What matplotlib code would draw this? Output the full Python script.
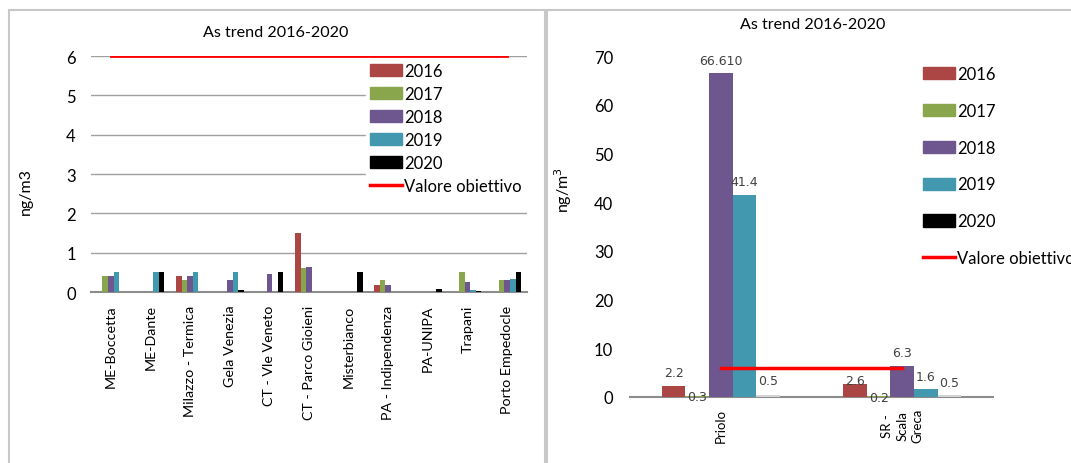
import numpy as np
import matplotlib
matplotlib.use("Agg")
import matplotlib.pyplot as plt
from matplotlib.patches import Rectangle, Patch
from matplotlib.lines import Line2D

plt.rcParams['font.family'] = ['Lato', 'DejaVu Sans']

years = ["2016", "2017", "2018", "2019", "2020"]
colors = ["#ab4644", "#8aa64c", "#6e568e", "#4298ae", "#000000"]

# pannello sinistro
stations_left = ["ME-Boccetta", "ME-Dante", "Milazzo - Termica", "Gela Venezia",
                 "CT - Vle Veneto", "CT - Parco Gioieni", "Misterbianco",
                 "PA - Indipendenza", "PA-UNIPA", "Trapani", "Porto Empedocle"]
left_2016 = [0, 0, 0.4, 0, 0, 1.5, 0, 0.18, 0, 0, 0]
left_2017 = [0.4, 0, 0.3, 0, 0, 0.6, 0, 0.3, 0, 0.5, 0.3]
left_2018 = [0.4, 0, 0.4, 0.3, 0.45, 0.63, 0, 0.18, 0, 0.26, 0.3]
left_2019 = [0.5, 0.5, 0.5, 0.5, 0, 0, 0, 0, 0, 0.05, 0.33]
left_2020 = [0, 0.5, 0, 0.05, 0.5, 0, 0.5, 0, 0.08, 0.02, 0.5]
obiettivo = 6

# pannello destro
stations_right = ["Priolo", "SR -\nScala\nGreca"]
right_2016 = [2.2, 2.6]
right_2017 = [0.3, 0.2]
right_2018 = [66.61, 6.3]
right_2019 = [41.4, 1.6]
right_2020 = [0.5, 0.5]
right_labels = [["2.2", "2.6"], ["0.3", "0.2"], ["66.610", "6.3"], ["41.4", "1.6"], ["0.5", "0.5"]]

W, H = 1071, 464
fig = plt.figure(figsize=(W / 100, H / 100), dpi=100)

# cornici dei due grafici
fig.patches.append(Rectangle((9 / W, -0.1), (545 - 9) / W, 1.1 - 10.5 / H,
                             transform=fig.transFigure, fill=False, edgecolor="#c8c8c8", lw=1.5))
fig.patches.append(Rectangle((547 / W, -0.1), 0.6, 1.1 - 10.5 / H,
                             transform=fig.transFigure, fill=False, edgecolor="#c8c8c8", lw=1.5))

grey = "#8c8c8c"

# ---- sinistra
ax1 = fig.add_axes([91 / W, (H - 293) / H, 436 / W, 236 / H])
x = np.arange(len(stations_left))
w = 0.14
series_left = [left_2016, left_2017, left_2018, left_2019, left_2020]
for i, vals in enumerate(series_left):
    ax1.bar(x + (i - 2) * w, vals, w, color=colors[i], zorder=3)
ax1.plot([x[0], x[-1]], [obiettivo, obiettivo], color="red", lw=2, zorder=6)
ax1.set_xlim(-0.5, len(stations_left) - 0.5)
ax1.set_ylim(0, 6)
ax1.set_yticks(range(0, 7))
ax1.yaxis.grid(True, color="#a0a0a0", lw=1)
ax1.set_axisbelow(True)
for s in ["left", "right", "top"]:
    ax1.spines[s].set_visible(False)
ax1.spines["bottom"].set_color(grey)
ax1.spines["bottom"].set_linewidth(1.5)
ax1.tick_params(axis="y", length=0, labelsize=12, pad=11)
ax1.tick_params(axis="x", length=0, labelsize=10.3, pad=9)
ax1.set_xticks(x)
ax1.set_xticklabels(stations_left, rotation=90)
fig.text(26 / W, 1 - 192 / H, "ng/m3", rotation=90, fontsize=11.5, ha="center", va="center")
fig.text(276 / W, 1 - 33 / H, "As trend 2016-2020", fontsize=11.6, ha="center", va="center")

handles = [Patch(color=c) for c in colors] + [Line2D([], [], color="red", lw=2.5)]
labels = years + ["Valore obiettivo"]
leg1 = ax1.legend(handles, labels, loc="upper left", bbox_to_anchor=(366 / W, 1 - 60 / H),
                  bbox_transform=fig.transFigure, frameon=True, fancybox=False,
                  edgecolor="white", facecolor="white", framealpha=1, fontsize=12,
                  handlelength=1.9, handleheight=0.75, handletextpad=0.15,
                  labelspacing=0.42, borderpad=0.25, borderaxespad=0)
leg1.set_zorder(5)

# ---- destra
ax2 = fig.add_axes([630 / W, (H - 398) / H, 363 / W, 341 / H])
x2 = np.arange(len(stations_right))
w2 = 0.13
series_right = [right_2016, right_2017, right_2018, right_2019, right_2020]
colors_right = colors[:4] + ["#d4d4d4"]
# scostamento verticale delle etichette (punti)
label_off = [[10, 3], [-1, -1], [9, 10], [10, 9], [10, 9]]
for i, vals in enumerate(series_right):
    pos = x2 + (i - 2) * w2
    ax2.bar(pos, vals, w2, color=colors_right[i], zorder=3)
    for j, (p, v, t) in enumerate(zip(pos, vals, right_labels[i])):
        ax2.annotate(t, (p, v), xytext=(0, label_off[i][j]), textcoords="offset points",
                     ha="center", va="center", fontsize=9, color="#404040",
                     family="DejaVu Sans", zorder=5)
ax2.plot([x2[0], x2[-1]], [obiettivo, obiettivo], color="red", lw=2.5, zorder=4)
ax2.set_xlim(-0.5, len(stations_right) - 0.5)
ax2.set_ylim(0, 70)
ax2.set_yticks(range(0, 71, 10))
for s in ["left", "right", "top"]:
    ax2.spines[s].set_visible(False)
ax2.spines["bottom"].set_color(grey)
ax2.spines["bottom"].set_linewidth(1.5)
ax2.tick_params(axis="y", length=0, labelsize=12, pad=12)
ax2.tick_params(axis="x", length=0, labelsize=9.5, pad=8)
ax2.set_xticks(x2)
ax2.set_xticklabels(stations_right, rotation=90, linespacing=1.3)
fig.text(563 / W, 1 - 190 / H, "ng/m$^3$", rotation=90, fontsize=11.5, ha="center", va="center")
fig.text(813 / W, 1 - 25 / H, "As trend 2016-2020", fontsize=11.6, ha="center", va="center")

leg2 = ax2.legend(handles, labels, loc="upper left", bbox_to_anchor=(923 / W, 1 - 67 / H),
                  bbox_transform=fig.transFigure, frameon=False, fontsize=12,
                  handlelength=1.9, handleheight=0.75, handletextpad=0.15,
                  labelspacing=1.25, borderpad=0, borderaxespad=0)

fig.savefig("out.png", dpi=100)
